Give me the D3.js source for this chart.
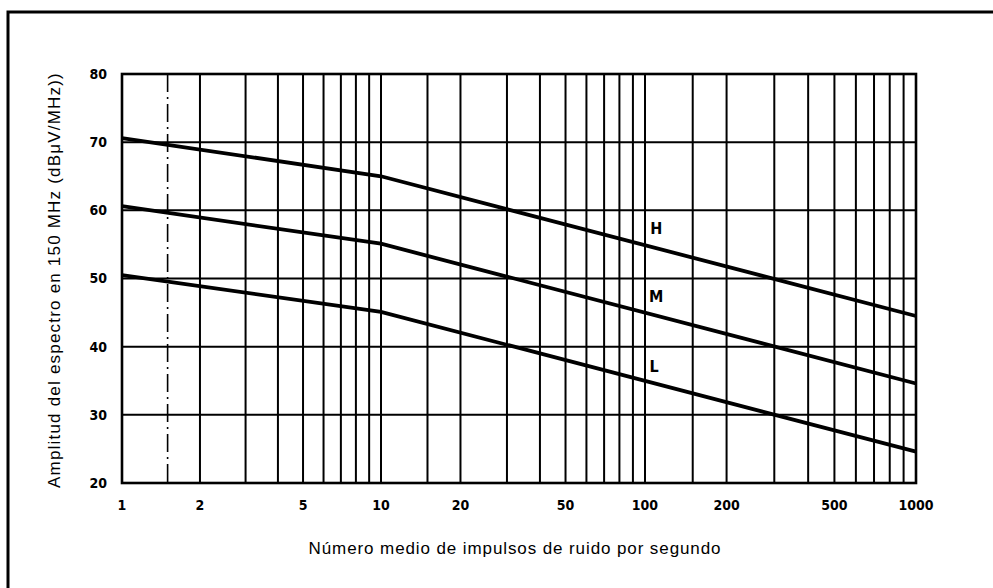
<!DOCTYPE html>
<html>
<head>
<meta charset="utf-8">
<script src="https://cdn.jsdelivr.net/npm/d3@7"></script>
<style>
  body { margin: 0; background: #fff; }
  svg { display: block; }
  .tick-label { font-family: "DejaVu Sans Condensed", "DejaVu Sans", sans-serif; font-weight: bold; font-size: 14px; }
  .title { font-family: "Liberation Sans", sans-serif; }
</style>
</head>
<body>
<div id="chart"></div>
<script>
var width = 993;
var height = 588;

// values
var xTickLabels = [1, 2, 5, 10, 20, 50, 100, 200, 500, 1000];
var yTickLabels = [20, 30, 40, 50, 60, 70, 80];
var xGrid = [2, 3, 4, 5, 6, 7, 8, 9, 10, 15, 20, 30, 40, 50, 60, 70, 80, 90, 100,
             150, 200, 300, 400, 500, 600, 700, 800, 900];
var xDashDot = [1.5];
var pulses = [1, 10, 1000];
var seriesH = [70.6, 65.0, 44.5];
var seriesM = [60.6, 55.1, 34.6];
var seriesL = [50.5, 45.1, 24.6];
var seriesNames = ["H", "M", "L"];
// where the letters sit (x value, y value)
var labelX = [110, 110, 108];
var labelY = [57.3, 47.4, 37.1];

var svg = d3.select("#chart")
  .append("svg")
    .attr("width", width)
    .attr("height", height);

// outer frame (only left and top edges fall inside the picture)
svg.append("rect")
    .attr("x", 8)
    .attr("y", 12)
    .attr("width", 1100)
    .attr("height", 700)
    .attr("fill", "none")
    .attr("stroke", "#000")
    .attr("stroke-width", 3);

// decades in the printed chart are not quite equal, so piecewise log
var x = d3.scaleLog()
    .domain([1, 10, 100, 1000])
    .range([122, 381, 645, 916]);

var y = d3.scaleLinear()
    .domain([20, 80])
    .range([483, 74]);

// vertical grid
svg.selectAll(".vgrid")
    .data(xGrid)
  .enter().append("line")
    .attr("class", "vgrid")
    .attr("x1", function(d) { return x(d); })
    .attr("x2", function(d) { return x(d); })
    .attr("y1", y(80))
    .attr("y2", y(20))
    .attr("stroke", "#000")
    .attr("stroke-width", 2);

svg.selectAll(".vdash")
    .data(xDashDot)
  .enter().append("line")
    .attr("class", "vdash")
    .attr("x1", function(d) { return x(d); })
    .attr("x2", function(d) { return x(d); })
    .attr("y1", y(80))
    .attr("y2", y(20))
    .attr("stroke", "#000")
    .attr("stroke-width", 1.6)
    .attr("stroke-dasharray", "18,5,2,5");

// horizontal grid
svg.selectAll(".hgrid")
    .data(yTickLabels.slice(1, -1))
  .enter().append("line")
    .attr("class", "hgrid")
    .attr("x1", x(1))
    .attr("x2", x(1000))
    .attr("y1", function(d) { return y(d); })
    .attr("y2", function(d) { return y(d); })
    .attr("stroke", "#000")
    .attr("stroke-width", 2);

// plot border
svg.append("rect")
    .attr("x", x(1))
    .attr("y", y(80))
    .attr("width", x(1000) - x(1))
    .attr("height", y(20) - y(80))
    .attr("fill", "none")
    .attr("stroke", "#000")
    .attr("stroke-width", 2.6);

// curves
var line = d3.line()
    .x(function(d) { return x(d[0]); })
    .y(function(d) { return y(d[1]); });

[seriesH, seriesM, seriesL].forEach(function(s, i) {
  svg.append("path")
      .datum(d3.zip(pulses, s))
      .attr("d", line)
      .attr("fill", "none")
      .attr("stroke", "#000")
      .attr("stroke-width", 3.8);

  svg.append("text")
      .attr("class", "tick-label")
      .attr("x", x(labelX[i]))
      .attr("y", y(labelY[i]))
      .attr("dy", "0.35em")
      .attr("text-anchor", "middle")
      .style("font-size", "16px")
      .text(seriesNames[i]);
});

// tick labels
svg.selectAll(".xlab")
    .data(xTickLabels)
  .enter().append("text")
    .attr("class", "tick-label")
    .attr("x", function(d) { return x(d); })
    .attr("y", 505)
    .attr("dy", "0.35em")
    .attr("text-anchor", "middle")
    .text(function(d) { return d; });

svg.selectAll(".ylab")
    .data(yTickLabels)
  .enter().append("text")
    .attr("class", "tick-label")
    .attr("x", 107)
    .attr("y", function(d) { return y(d); })
    .attr("dy", "0.35em")
    .attr("text-anchor", "end")
    .text(function(d) { return d; });

// titles
svg.append("text")
    .attr("class", "title")
    .attr("x", 515)
    .attr("y", 548)
    .attr("dy", "0.35em")
    .attr("text-anchor", "middle")
    .style("font-size", "17px")
    .style("letter-spacing", "0.9px")
    .text("Número medio de impulsos de ruido por segundo");

svg.append("text")
    .attr("class", "title")
    .attr("transform", "translate(54,280) rotate(-90)")
    .attr("dy", "0.35em")
    .attr("text-anchor", "middle")
    .style("font-size", "17px")
    .style("letter-spacing", "1.2px")
    .text("Amplitud del espectro en 150 MHz (dBμV/MHz))");
</script>
</body>
</html>
